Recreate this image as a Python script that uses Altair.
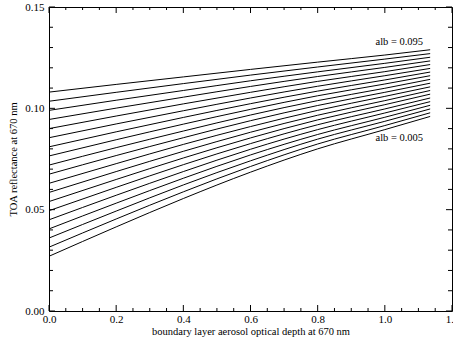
import altair as alt
import pandas as pd

# albedo of each curve
albs = [0.005, 0.010, 0.015, 0.020, 0.025, 0.030, 0.035, 0.040, 0.045, 0.050,
        0.055, 0.060, 0.065, 0.070, 0.075, 0.080, 0.085, 0.090, 0.095]

# aerosol optical depth sample points
aod = [0.0, 0.2, 0.4, 0.6, 0.8, 1.0, 1.135]

# TOA reflectance read at each optical depth (one value per albedo curve)
refl_000 = [0.0270, 0.0315, 0.0360, 0.0405, 0.0450, 0.0495, 0.0540, 0.0585, 0.0630, 0.0675,
            0.0720, 0.0765, 0.0810, 0.0855, 0.0900, 0.0945, 0.0990, 0.1035, 0.1080]
refl_020 = [0.0415, 0.0454, 0.0493, 0.0532, 0.0571, 0.0610, 0.0649, 0.0688, 0.0727, 0.0767,
            0.0806, 0.0845, 0.0884, 0.0923, 0.0962, 0.1001, 0.1040, 0.1079, 0.1118]
refl_040 = [0.0555, 0.0588, 0.0622, 0.0655, 0.0688, 0.0722, 0.0755, 0.0788, 0.0822, 0.0855,
            0.0888, 0.0922, 0.0955, 0.0988, 0.1022, 0.1055, 0.1088, 0.1122, 0.1155]
refl_060 = [0.0685, 0.0713, 0.0741, 0.0770, 0.0798, 0.0826, 0.0854, 0.0882, 0.0910, 0.0939,
            0.0967, 0.0995, 0.1023, 0.1051, 0.1079, 0.1108, 0.1136, 0.1164, 0.1192]
refl_080 = [0.0800, 0.0824, 0.0848, 0.0871, 0.0895, 0.0919, 0.0943, 0.0966, 0.0990, 0.1014,
            0.1038, 0.1062, 0.1085, 0.1109, 0.1133, 0.1157, 0.1180, 0.1204, 0.1228]
refl_100 = [0.0895, 0.0915, 0.0936, 0.0956, 0.0977, 0.0997, 0.1018, 0.1038, 0.1059, 0.1079,
            0.1099, 0.1120, 0.1140, 0.1161, 0.1181, 0.1202, 0.1222, 0.1243, 0.1263]
refl_1135 = [0.0960, 0.0978, 0.0997, 0.1015, 0.1033, 0.1051, 0.1070, 0.1088, 0.1106, 0.1124,
             0.1143, 0.1161, 0.1179, 0.1197, 0.1216, 0.1234, 0.1252, 0.1270, 0.1289]

# annotations
label_text = ["alb = 0.095", "alb = 0.005"]
label_x = [1.114, 1.114]
label_y = [0.1329, 0.0855]

# tick values
x_major = [0.0, 0.2, 0.4, 0.6, 0.8, 1.0, 1.2]
x_minor = [0.05, 0.1, 0.15, 0.25, 0.3, 0.35, 0.45, 0.5, 0.55, 0.65, 0.7, 0.75,
           0.85, 0.9, 0.95, 1.05, 1.1, 1.15]
y_major = [0.0, 0.05, 0.10, 0.15]
y_minor = [0.01, 0.02, 0.03, 0.04, 0.06, 0.07, 0.08, 0.09, 0.11, 0.12, 0.13, 0.14]

W, H = 403, 304
FONT = "Liberation Serif"

cols = [refl_000, refl_020, refl_040, refl_060, refl_080, refl_100, refl_1135]
rows = []
for xi, col in zip(aod, cols):
    for a, r in zip(albs, col):
        rows.append({"x": xi, "y": r, "alb": a})
df = pd.DataFrame(rows)

xs = alt.Scale(domain=[0, 1.2], nice=False, zero=False)
ys = alt.Scale(domain=[0, 0.15], nice=False, zero=False)

XTITLE = "boundary layer aerosol optical depth at 670 nm"
YTITLE = "TOA reflectance at 670 nm"

xaxis = alt.Axis(values=x_major, format=".1f", ticks=False, domain=False, grid=False,
                 labelPadding=2, labelFont=FONT, labelFontSize=11, labelColor="black",
                 labelFlush=False, labelOverlap=False,
                 titleFont=FONT, titleFontSize=10.5, titleFontWeight="normal",
                 titleColor="black", titlePadding=2)
yaxis = alt.Axis(values=y_major, format=".2f", ticks=False, domain=False, grid=False,
                 labelPadding=5, labelFont=FONT, labelFontSize=11, labelColor="black",
                 labelFlush=False, labelOverlap=False,
                 titleFont=FONT, titleFontSize=10.5, titleFontWeight="normal",
                 titleColor="black", titlePadding=6)


def X(field):
    return alt.X(field, scale=xs, axis=xaxis, title=XTITLE)


def Y(field):
    return alt.Y(field, scale=ys, axis=yaxis, title=YTITLE)


lines = alt.Chart(df).mark_line(color="black", strokeWidth=1, interpolate="monotone").encode(
    x=X("x:Q"), y=Y("y:Q"), detail="alb:N")

lab_df = pd.DataFrame({"t": label_text, "x": label_x, "y": label_y})
labels = alt.Chart(lab_df).mark_text(font=FONT, fontSize=10.5, align="right", baseline="middle",
                                     color="black").encode(x=X("x:Q"), y=Y("y:Q"), text="t:N")


def xticks(vals, length):
    d = pd.DataFrame({"x": vals})
    bottom = alt.Chart(d).mark_rule(color="black", strokeWidth=1).encode(
        x=X("x:Q"), y=alt.value(H), y2=alt.value(H - length))
    top = alt.Chart(d).mark_rule(color="black", strokeWidth=1).encode(
        x=X("x:Q"), y=alt.value(0), y2=alt.value(length))
    return [bottom, top]


def yticks(vals, length):
    d = pd.DataFrame({"y": vals})
    left = alt.Chart(d).mark_rule(color="black", strokeWidth=1).encode(
        y=Y("y:Q"), x=alt.value(0), x2=alt.value(length))
    right = alt.Chart(d).mark_rule(color="black", strokeWidth=1).encode(
        y=Y("y:Q"), x=alt.value(W), x2=alt.value(W - length))
    return [left, right]


layers = [lines, labels] + xticks(x_major, 6) + xticks(x_minor, 3) + yticks(y_major, 6) + yticks(y_minor, 4)

chart = alt.layer(*layers).properties(
    width=W, height=H,
    autosize=alt.AutoSizeParams(type="none"),
    padding={"left": 49, "top": 7, "right": 1, "bottom": 28},
    background="white",
).configure_view(stroke="black", strokeWidth=1, fill="white")

chart.save("out.html", embed_options={"renderer": "svg", "actions": False})
